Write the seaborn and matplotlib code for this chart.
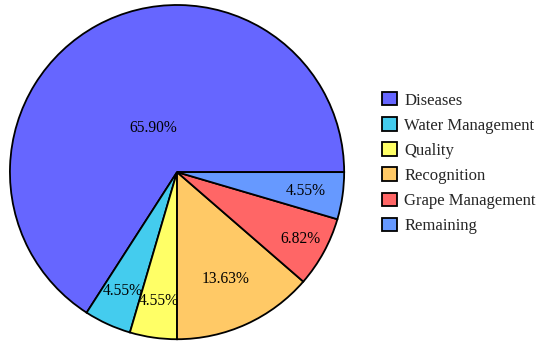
import numpy as np
import matplotlib
matplotlib.use("Agg")
import matplotlib.pyplot as plt
import seaborn as sns

# data
categories = ['Diseases', 'Water Management', 'Quality', 'Recognition',
              'Grape Management', 'Remaining']
shares = [65.90, 4.55, 4.55, 13.63, 6.82, 4.55]
pct_labels = ['65.90%', '4.55%', '4.55%', '13.63%', '6.82%', '4.55%']

colors = ['#6666FF', '#44CCEE', '#FFFF66', '#FFC966', '#FF6666', '#6699FF']
# radial position of each percentage label (fraction of radius)
label_r = [0.30, 0.78, 0.78, 0.70, 0.84, 0.78]

sns.set_theme(style="white")
plt.rcParams['font.family'] = ['Liberation Serif', 'DejaVu Serif']

fig = plt.figure(figsize=(5.5, 3.47), dpi=100)
ax = fig.add_axes([0.0164, 0.02, 0.611, 0.968])

wedges, _ = ax.pie(shares, colors=colors, startangle=0, counterclock=True,
                   wedgeprops=dict(edgecolor='black', linewidth=1.3))
ax.set_xlim(-1.005, 1.005)
ax.set_ylim(-1.005, 1.005)
ax.set_aspect('equal')

for w, txt, r in zip(wedges, pct_labels, label_r):
    mid = np.deg2rad((w.theta1 + w.theta2) / 2)
    ax.text(r * np.cos(mid), r * np.sin(mid), txt, ha='center', va='center',
            fontsize=11.2, color='black')

leg = fig.legend(wedges, categories, loc='center left',
                 bbox_to_anchor=(0.694, 0.53), frameon=False, fontsize=12,
                 handlelength=0.9, handleheight=0.85, handletextpad=0.45,
                 labelspacing=0.52, borderaxespad=0, borderpad=0)

fig.savefig('out.png', dpi=100)
